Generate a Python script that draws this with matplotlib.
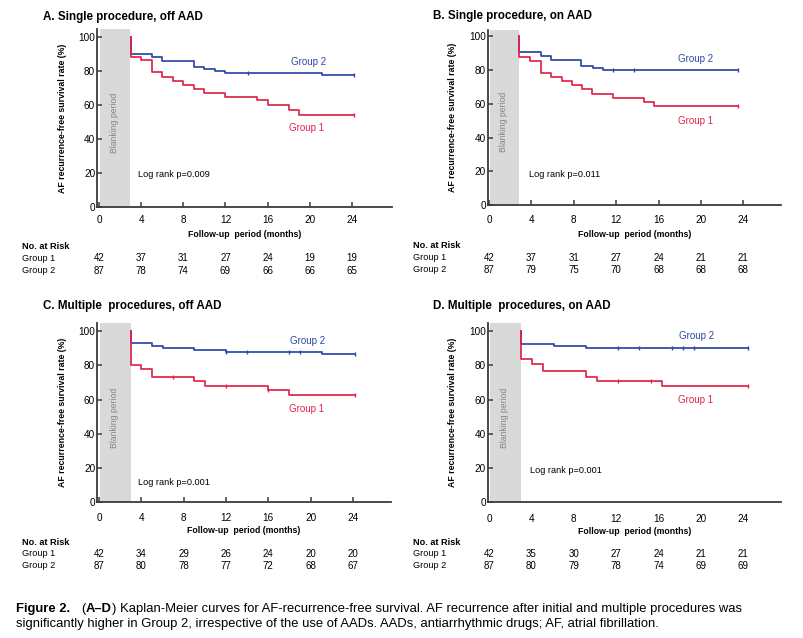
import numpy as np
import matplotlib
matplotlib.use("Agg")
import matplotlib.pyplot as plt
from matplotlib import transforms, font_manager

W, H = 804, 638
plt.rcParams["font.family"] = ["Liberation Sans", "DejaVu Sans"]

BLUE = "#2c47a4"
RED = "#e0234b"
GREY_BOX = "#d9d9d9"
AXIS = "#3a3a3a"

# ---- data ----
tick_months = [0, 4, 8, 12, 16, 20, 24]

# A. Single procedure, off AAD
a_g1_t = [3, 3, 4, 5, 6, 7, 8, 9, 10, 12, 15, 16, 18, 19, 24.2]
a_g1_v = [100, 88, 86, 79, 76.5, 74, 71.5, 69, 67, 64.5, 62.5, 59.5, 57, 54, 54]
a_g1_cens = [24.2]
a_g2_t = [3, 3, 5, 6, 9, 10, 11, 12, 21.2, 24.2]
a_g2_v = [100, 90, 88, 85.5, 82, 81, 79.5, 78.5, 77.5, 77.5]
a_g2_cens = [14.1, 24.2]
a_risk_g1 = [42, 37, 31, 27, 24, 19, 19]
a_risk_g2 = [87, 78, 74, 69, 66, 66, 65]

# B. Single procedure, on AAD
b_g1_t = [2.8, 2.8, 3.9, 4.9, 5.9, 6.85, 7.85, 8.75, 9.75, 11.7, 14.65, 15.6, 23.5]
b_g1_v = [100, 87.5, 85, 78, 75.5, 73.5, 71, 68.5, 66, 63.5, 61, 58.5, 58.5]
b_g1_cens = [23.5]
b_g2_t = [2.8, 2.8, 4.9, 5.85, 8.7, 9.8, 10.8, 23.5]
b_g2_v = [100, 90.5, 88, 85.5, 82.5, 81, 80, 80]
b_g2_cens = [11.7, 13.7, 23.5]
b_risk_g1 = [42, 37, 31, 27, 24, 21, 21]
b_risk_g2 = [87, 79, 75, 70, 68, 68, 68]

# C. Multiple procedures, off AAD
c_g1_t = [3, 3, 4, 5, 9, 10, 16, 18, 24.2]
c_g1_v = [100, 80.5, 78, 73.5, 71, 68, 65.5, 62.5, 62.5]
c_g1_cens = [7.0, 12.0, 16.0, 24.2]
c_g2_t = [3, 3, 5, 6, 9, 12, 21.1, 24.2]
c_g2_v = [100, 93, 91.5, 90, 89, 88, 86.5, 86.5]
c_g2_cens = [12.0, 14.0, 18.0, 19.0, 24.2]
c_risk_g1 = [42, 34, 29, 26, 24, 20, 20]
c_risk_g2 = [87, 80, 78, 77, 72, 68, 67]

# D. Multiple procedures, on AAD
d_g1_t = [3, 3, 4.1, 5.1, 9.2, 10.2, 16.3, 24.4]
d_g1_v = [100, 83.5, 81, 76.5, 73.5, 71, 68, 68]
d_g1_cens = [12.2, 15.25, 24.4]
d_g2_t = [3, 3, 6.1, 9.2, 24.4]
d_g2_v = [100, 92.5, 91.5, 90, 90]
d_g2_cens = [12.2, 14.2, 17.3, 18.3, 19.3, 24.4]
d_risk_g1 = [42, 35, 30, 27, 24, 21, 21]
d_risk_g2 = [87, 80, 79, 78, 74, 69, 69]

titles = ["A. Single procedure, off AAD", "B. Single procedure, on AAD",
          "C. Multiple  procedures, off AAD", "D. Multiple  procedures, on AAD"]
pvals = ["Log rank p=0.009", "Log rank p=0.011", "Log rank p=0.001", "Log rank p=0.001"]


def fx(px):
    return px / W


def fy(px):
    return 1 - px / H


def surv_at(t, v, tc):
    t = np.asarray(t)
    v = np.asarray(v)
    idx = np.searchsorted(t, tc, side="right") - 1
    return v[idx]


fig = plt.figure(figsize=(W / 100, H / 100), dpi=100)

# layout of each panel (pixels): axes box, xlim, ylim, text spots
panels = [
    dict(box=(97.3, 29.3, 391.7, 206.7), xlim=(-0.16, 27.77), ylim=(0, 104.3),
         blank=2.98, title_xy=(42.7, 16.7), risk_x=21.7, risk_y=(246.7, 258.3, 270.7),
         p_xy=(3.7, 19), g2_xy=(19.85, 85), g1_xy=(19.7, 46), xpad=6, xlab=28, xticks=True),
    dict(box=(488, 30, 781, 205.3), xlim=(-0.09, 27.55), ylim=(0, 103.5),
         blank=2.83, title_xy=(433.3, 16), risk_x=412.7, risk_y=(246, 257.7, 270),
         p_xy=(3.77, 18.3), g2_xy=(19.5, 86.4), g1_xy=(19.5, 49.8), xpad=7, xlab=29.5, xticks=True),
    dict(box=(97.3, 323.3, 390.7, 502), xlim=(-0.17, 27.57), ylim=(0, 104.7),
         blank=2.98, title_xy=(43.3, 306), risk_x=21.7, risk_y=(542.3, 554, 565.7),
         p_xy=(3.7, 11.5), g2_xy=(19.7, 94.3), g1_xy=(19.6, 54.5), xpad=8, xlab=28.5, xticks=True),
    dict(box=(488, 323.3, 781, 502), xlim=(-0.09, 27.55), ylim=(0, 104.7),
         blank=2.99, title_xy=(433.3, 306), risk_x=412.7, risk_y=(542.3, 554, 565.7),
         p_xy=(3.9, 18.2), g2_xy=(19.6, 97.4), g1_xy=(19.5, 59.8), xpad=9, xlab=30, xticks=False),
]

curves = [
    (a_g1_t, a_g1_v, a_g1_cens, a_g2_t, a_g2_v, a_g2_cens, a_risk_g1, a_risk_g2),
    (b_g1_t, b_g1_v, b_g1_cens, b_g2_t, b_g2_v, b_g2_cens, b_risk_g1, b_risk_g2),
    (c_g1_t, c_g1_v, c_g1_cens, c_g2_t, c_g2_v, c_g2_cens, c_risk_g1, c_risk_g2),
    (d_g1_t, d_g1_v, d_g1_cens, d_g2_t, d_g2_v, d_g2_cens, d_risk_g1, d_risk_g2),
]

for i, (p, c) in enumerate(zip(panels, curves)):
    l, t, r, b = p["box"]
    ax = fig.add_axes([fx(l), fy(b), (r - l) / W, (b - t) / H])
    g1_t, g1_v, g1_c, g2_t, g2_v, g2_c, risk1, risk2 = c

    ax.axvspan(0.12, p["blank"], color=GREY_BOX, lw=0, zorder=0)
    ax.text(p["blank"] / 2, 49, "Blanking period", rotation=90, ha="center",
            va="center", color="#858585", fontsize=6.2)

    for tt, vv, cc, col in [(g2_t, g2_v, g2_c, BLUE), (g1_t, g1_v, g1_c, RED)]:
        ax.step(tt, vv, where="post", color=col, lw=1.25, zorder=3)
        ax.plot(cc, surv_at(tt, vv, cc), ls="none", marker="|", ms=3.5,
                mew=1.0, color=col, zorder=4)

    ax.text(p["g2_xy"][0], p["g2_xy"][1], "Group 2", color=BLUE, fontsize=7,
            ha="center", va="center")
    ax.text(p["g1_xy"][0], p["g1_xy"][1], "Group 1", color=RED, fontsize=7,
            ha="center", va="center")
    ax.text(p["p_xy"][0], p["p_xy"][1], pvals[i], fontsize=6.6, ha="left", va="center")

    ax.set_xlim(p["xlim"])
    ax.set_ylim(p["ylim"])
    ax.set_xticks(tick_months)
    ax.set_yticks([0, 20, 40, 60, 80, 100])
    ax.tick_params(axis="both", direction="in", labelsize=7.2, color=AXIS,
                   width=1.1, length=3.5)
    ax.tick_params(axis="y", pad=1.5)
    ax.tick_params(axis="x", pad=p["xpad"], length=3.5 if p["xticks"] else 0)
    for s in ["top", "right"]:
        ax.spines[s].set_visible(False)
    for s in ["left", "bottom"]:
        ax.spines[s].set_color(AXIS)
        ax.spines[s].set_linewidth(1.3)
    ax.patch.set_alpha(0)

    ax.text(0.5, -p["xlab"] / (b - t), "Follow-up  period (months)", transform=ax.transAxes,
            ha="center", va="center", fontsize=6.3, fontweight="bold")
    ax.text(-35 / (r - l), 0.5, "AF recurrence-free survival rate (%)",
            transform=ax.transAxes, rotation=90, ha="center", va="center",
            fontsize=6.3, fontweight="bold")

    fig.text(fx(p["title_xy"][0]), fy(p["title_xy"][1]), titles[i], fontsize=8.4,
             fontweight="bold", ha="left", va="center")

    # numbers at risk
    ry0, ry1, ry2 = p["risk_y"]
    fig.text(fx(p["risk_x"]), fy(ry0), "No. at Risk", fontsize=6.6,
             fontweight="bold", ha="left", va="center")
    fig.text(fx(p["risk_x"]), fy(ry1), "Group 1", fontsize=6.6, ha="left", va="center")
    fig.text(fx(p["risk_x"]), fy(ry2), "Group 2", fontsize=6.6, ha="left", va="center")
    tr = transforms.blended_transform_factory(ax.transData, fig.transFigure)
    for m, n1, n2 in zip(tick_months, risk1, risk2):
        ax.text(m, fy(ry1), str(n1), transform=tr, fontsize=7, ha="center",
                va="center", clip_on=False)
        ax.text(m, fy(ry2), str(n2), transform=tr, fontsize=7, ha="center",
                va="center", clip_on=False)

# caption with mixed weights
names = {f.name for f in font_manager.fontManager.ttflist}
cap_font = "Liberation Sans Narrow" if "Liberation Sans Narrow" in names else "Liberation Sans"
cap_size = 9.4
renderer = fig.canvas.get_renderer()


def put_runs(x_px, y_px, runs):
    x = x_px
    for s, w, gap in runs:
        txt = fig.text(fx(x), fy(y_px), s, fontsize=cap_size, fontweight=w,
                       ha="left", va="baseline", family=[cap_font, "DejaVu Sans"])
        x += txt.get_window_extent(renderer=renderer).width + gap


put_runs(16, 612, [("Figure 2.", "bold", 11), ("(", "normal", 0.3), ("A–D", "bold", 0.3),
                   (") Kaplan-Meier curves for AF-recurrence-free survival. AF recurrence "
                    "after initial and multiple procedures was", "normal", 0)])
put_runs(16, 626.5, [("significantly higher in Group 2, irrespective of the use of AADs. "
                      "AADs, antiarrhythmic drugs; AF, atrial fibrillation.", "normal", 0)])

fig.savefig("out.png", dpi=100)
